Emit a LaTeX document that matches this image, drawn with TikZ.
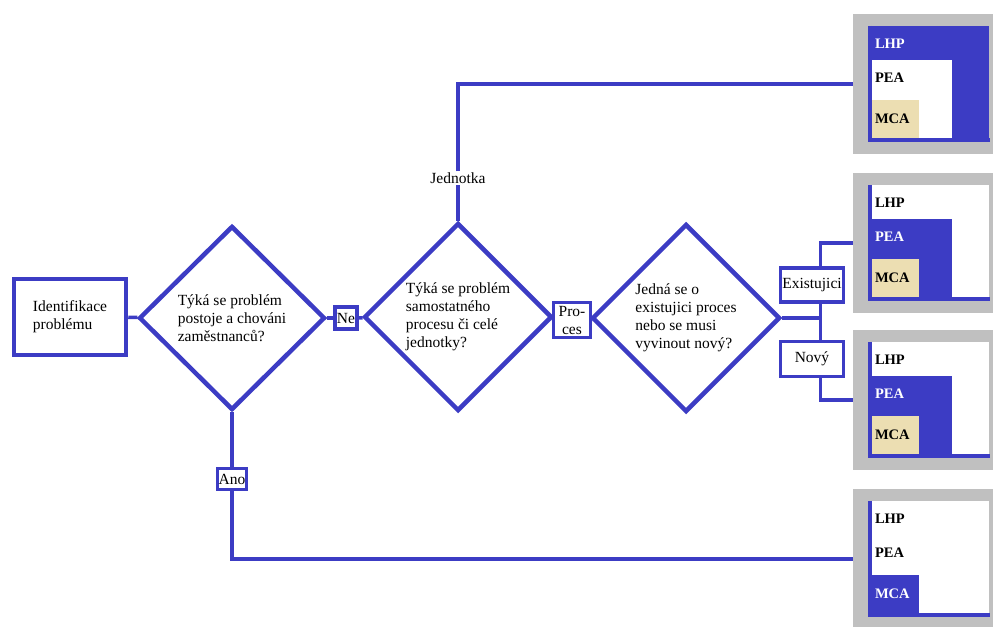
\documentclass[tikz,border=0pt]{standalone}
\usepackage{fontspec}
\setmainfont{Liberation Serif}
\usetikzlibrary{positioning,shapes.geometric}
\definecolor{flowblue}{RGB}{60,60,196}
\definecolor{panelgray}{RGB}{192,192,192}
\definecolor{sandtan}{RGB}{236,222,178}
\tikzset{
	startbox/.style={rectangle, draw=flowblue, line width=4.5pt, minimum width=112pt, minimum height=76pt, inner sep=0pt, align=left},
	decision/.style={diamond, draw=flowblue, line width=4.5pt, minimum width=188pt, minimum height=188pt, inner sep=0pt, align=left},
	tag/.style={rectangle, draw=flowblue, line width=3.5pt, fill=white, inner sep=1pt, align=center},
	link/.style={draw=flowblue, line width=3.5pt},
	panel/.style={rectangle, fill=panelgray, minimum width=140pt, minimum height=140pt, inner sep=0pt},
	hot/.style={fill=flowblue, text=white},
	cold/.style={fill=white, text=black},
	sand/.style={fill=sandtan, text=black},
	level/.style={font=\fontsize{14.5}{16}\selectfont\bfseries, inner sep=0pt, anchor=west}
}
% one grey panel: #1 node, #2 LHP, #3 PEA, #4 MCA
\newcommand{\levelpanel}[4]{%
	\begin{scope}[shift={(#1.north west)}]
		\fill[#2] (15,12) rectangle (136,128);
		\fill[#3] (19,46) rectangle (99,124);
		\fill[#4] (19,86) rectangle (66,124);
		\draw[flowblue, line width=4pt] (17,12) -- (17,126) -- (137,126);
		\node[level, #2, fill=none] at (22,30) {LHP};
		\node[level, #3, fill=none] at (22,64) {PEA};
		\node[level, #4, fill=none] at (22,105) {MCA};
	\end{scope}}

\begin{document}
\begin{tikzpicture}[x=1pt, y=-1pt, font=\fontsize{15.5}{18}\selectfont]
	\useasboundingbox (0,0) rectangle (995,626);
	\fill[white] (0,0) rectangle (995,626);

	\node[startbox] (ident) at (70,317) {Identifikace\\problému};
	\node[decision, minimum width=186pt, minimum height=184pt] (attitude) at (232,318) {Týká se problém\\postoje a chováni\\zaměstnanců?};
	\node[tag, minimum width=22pt, minimum height=22pt, inner sep=0pt] (ne) at (346,318) {Ne};
	\node[decision] (scope) at (458,317) {Týká se problém\\samostatného\\procesu či celé\\jednotky?};
	\node[tag, minimum width=37pt, minimum height=35pt, inner sep=0pt] (proc) at (572,320) {Pro-\\ces};
	\node[decision] (process) at (686,318) {Jedná se o\\existujici proces\\nebo se musi\\vyvinout nový?};
	\coordinate (split) at ([xshift=38pt]process.east);
	\node[tag, inner sep=0pt, minimum width=63pt, minimum height=34pt] (exist) at (812,285) {Existujici};
	\node[tag, inner sep=0pt, minimum width=63pt, minimum height=35pt] (novy) at (812,359) {Nový};
	\node[fill=white, inner sep=1pt] (unit) at (458,178) {Jednotka};
	\node[tag, minimum height=21pt, inner sep=1pt] (ano) at (232,479) {Ano};

	\node[panel] (p1) at (923,84) {};
	\node[panel] (p2) at (923,243) {};
	\node[panel] (p3) at (923,400) {};
	\node[panel] (p4) at (923,559) {};
	\levelpanel{p1}{hot}{cold}{sand}
	\levelpanel{p2}{cold}{hot}{sand}
	\levelpanel{p3}{cold}{hot}{sand}
	\levelpanel{p4}{cold}{cold}{hot}

	\draw[link] (ident) -- (attitude);
	\draw[link] (attitude) -- (ne);
	\draw[link] (ne) -- (scope);
	\draw[link] (scope) -- (proc);
	\draw[link] (proc) -- (process);
	\draw[link] (process.east) -- (split);
	\draw[link] (split |- exist.south) -- (split) -- (split |- novy.north);
	\draw[link] (split |- exist.north) |- (p2.west);
	\draw[link] (split |- novy.south) |- (p3.west);
	\draw[link] (scope.north) -- (unit.south);
	\draw[link] (unit.north) |- (p1.west);
	\draw[link] (attitude.south) -- (ano.north);
	\draw[link] (ano.south) |- (p4.west);
\end{tikzpicture}
\end{document}
